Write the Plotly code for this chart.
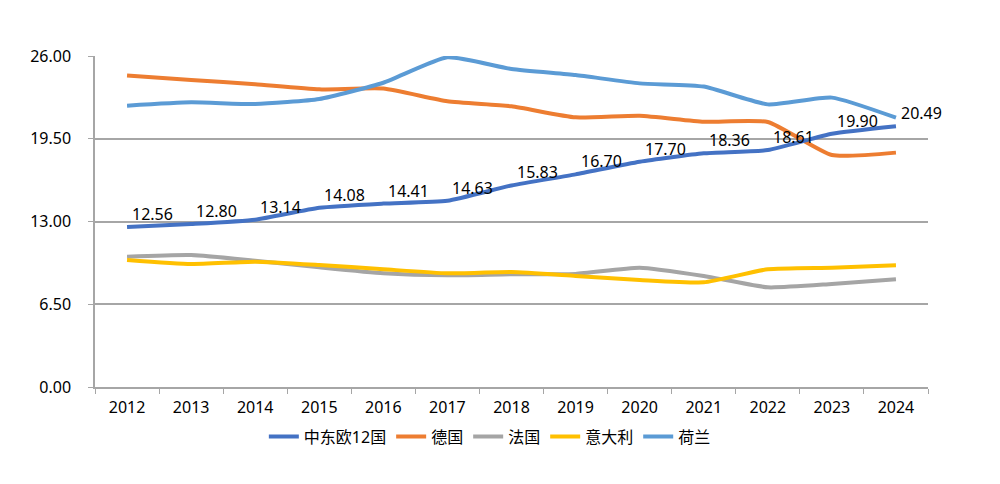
import plotly.graph_objects as go

years = ["2012", "2013", "2014", "2015", "2016", "2017", "2018", "2019", "2020", "2021", "2022", "2023", "2024"]
cee12 = [12.56, 12.80, 13.14, 14.08, 14.41, 14.63, 15.83, 16.70, 17.70, 18.36, 18.61, 19.90, 20.49]
germany = [24.46, 24.12, 23.78, 23.38, 23.44, 22.44, 22.05, 21.18, 21.31, 20.84, 20.82, 18.22, 18.41]
france = [10.24, 10.37, 9.92, 9.40, 8.93, 8.77, 8.86, 8.88, 9.37, 8.72, 7.83, 8.09, 8.46]
italy = [9.98, 9.66, 9.84, 9.58, 9.25, 8.93, 9.03, 8.72, 8.41, 8.22, 9.25, 9.37, 9.56]
netherlands = [22.10, 22.36, 22.23, 22.62, 23.90, 25.90, 24.98, 24.50, 23.85, 23.60, 22.20, 22.73, 21.15]

names = ["中东欧12国", "德国", "法国", "意大利", "荷兰"]
colors = ["#4472C4", "#ED7D31", "#A5A5A5", "#FFC000", "#5B9BD5"]
series = [cee12, germany, france, italy, netherlands]

yticks = [0, 6.5, 13, 19.5, 26]
FONT = "Noto Sans, Noto Sans CJK SC, sans-serif"

fig = go.Figure()
for name, vals, col in zip(names, series, colors):
    fig.add_trace(go.Scatter(x=years, y=vals, name=name, mode="lines",
                             line=dict(color=col, width=4, shape="spline", smoothing=0.5)))

# CEE line drawn on top of the others, legend order kept via legendrank
fig.data = tuple(list(fig.data[1:]) + [fig.data[0]])
for tr in fig.data:
    tr.legendrank = names.index(tr.name)

# data labels (category index positions on the x axis)
for i, v in enumerate(cee12):
    fig.add_annotation(x=i, y=v, xref="x", yref="y", text=f"{v:.2f}", showarrow=False,
                       xanchor="left", yanchor="bottom", xshift=3, yshift=0,
                       font=dict(size=16, color="#000000", family=FONT))

fig.update_layout(
    width=1000, height=484,
    margin=dict(l=95, r=72, t=56, b=97),
    paper_bgcolor="white", plot_bgcolor="white",
    font=dict(family=FONT, size=16, color="#000000"),
    showlegend=True,
    legend=dict(orientation="h", x=0.474, xanchor="center", y=-0.15, yanchor="middle",
                font=dict(size=16), itemwidth=30, traceorder="normal"),
)
fig.update_xaxes(type="category", range=[-0.5, 12.5], showline=True, linecolor="#A6A6A6", linewidth=1.5,
                 ticks="outside", ticklen=5, tickcolor="#A6A6A6", tickson="boundaries",
                 showgrid=False, tickfont=dict(size=16), ticklabelstandoff=5)
fig.update_yaxes(range=[0, 26], tickvals=yticks, ticktext=[f"{v:.2f}" for v in yticks],
                 showline=True, linecolor="#A6A6A6", linewidth=1.5,
                 ticks="outside", ticklen=5, tickcolor="#A6A6A6",
                 showgrid=True, gridcolor="#A6A6A6", gridwidth=1.5, zeroline=False,
                 tickfont=dict(size=16), ticklabelstandoff=14)

fig.write_html("out.html", config={"displayModeBar": False},
               post_script="document.body.style.margin='0';")
